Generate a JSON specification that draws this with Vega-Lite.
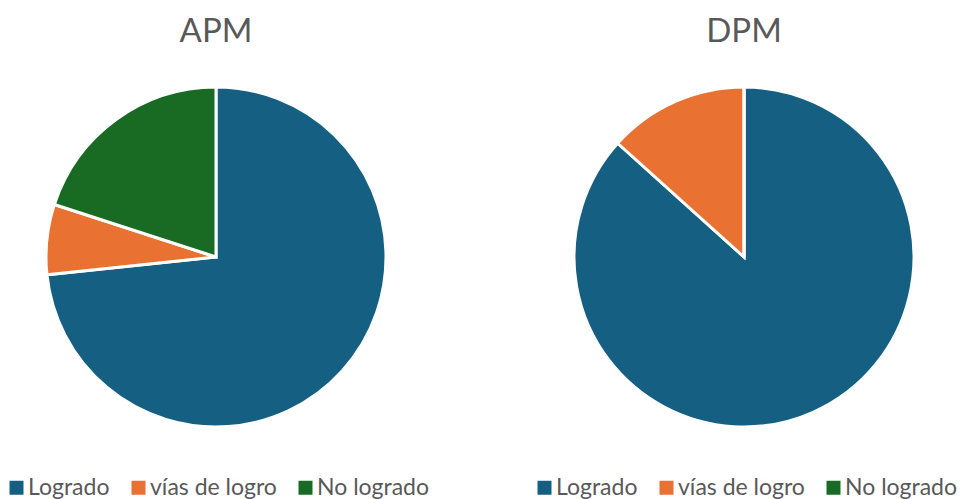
{
  "$schema": "https://vega.github.io/schema/vega-lite/v6.json",
  "padding": {"top": 16, "left": 0, "right": 0, "bottom": 0},
  "background": "white",
  "data": {"values": [
    {"panel": "APM", "estado": "Logrado", "orden": 1, "valor": 11},
    {"panel": "APM", "estado": "vías de logro", "orden": 2, "valor": 1},
    {"panel": "APM", "estado": "No logrado", "orden": 3, "valor": 3},
    {"panel": "DPM", "estado": "Logrado", "orden": 1, "valor": 13},
    {"panel": "DPM", "estado": "vías de logro", "orden": 2, "valor": 2},
    {"panel": "DPM", "estado": "No logrado", "orden": 3, "valor": 0}
  ]},
  "config": {
    "view": {"stroke": null},
    "font": "Lato",
    "title": {"fontSize": 33, "fontWeight": "normal", "color": "#595959", "font": "Lato", "anchor": "middle", "offset": 32},
    "concat": {"spacing": 93},
    "legend": {"title": null, "orient": "bottom", "direction": "horizontal", "offset": 44, "padding": 5, "symbolType": "square", "symbolSize": 196, "symbolStrokeWidth": 0, "labelFontSize": 23, "labelColor": "#595959", "labelFont": "Lato", "labelOffset": 0, "columnPadding": 17}
  },
  "resolve": {"legend": {"color": "independent"}},
  "hconcat": [
    {
      "title": "APM",
      "width": 432,
      "height": 340,
      "transform": [{"filter": "datum.panel === 'APM'"}],
      "mark": {"type": "arc", "outerRadius": 170, "stroke": "white", "strokeWidth": 3},
      "encoding": {
        "theta": {"field": "valor", "type": "quantitative", "stack": true},
        "order": {"field": "orden", "type": "quantitative"},
        "color": {
          "field": "estado", "type": "nominal",
          "scale": {"domain": ["Logrado", "vías de logro", "No logrado"], "range": ["#156082", "#E97132", "#196B24"]}
        }
      }
    },
    {
      "title": "DPM",
      "width": 432,
      "height": 340,
      "transform": [{"filter": "datum.panel === 'DPM'"}],
      "mark": {"type": "arc", "outerRadius": 170, "stroke": "white", "strokeWidth": 3},
      "encoding": {
        "theta": {"field": "valor", "type": "quantitative", "stack": true},
        "order": {"field": "orden", "type": "quantitative"},
        "color": {
          "field": "estado", "type": "nominal",
          "scale": {"domain": ["Logrado", "vías de logro", "No logrado"], "range": ["#156082", "#E97132", "#196B24"]}
        }
      }
    }
  ]
}
